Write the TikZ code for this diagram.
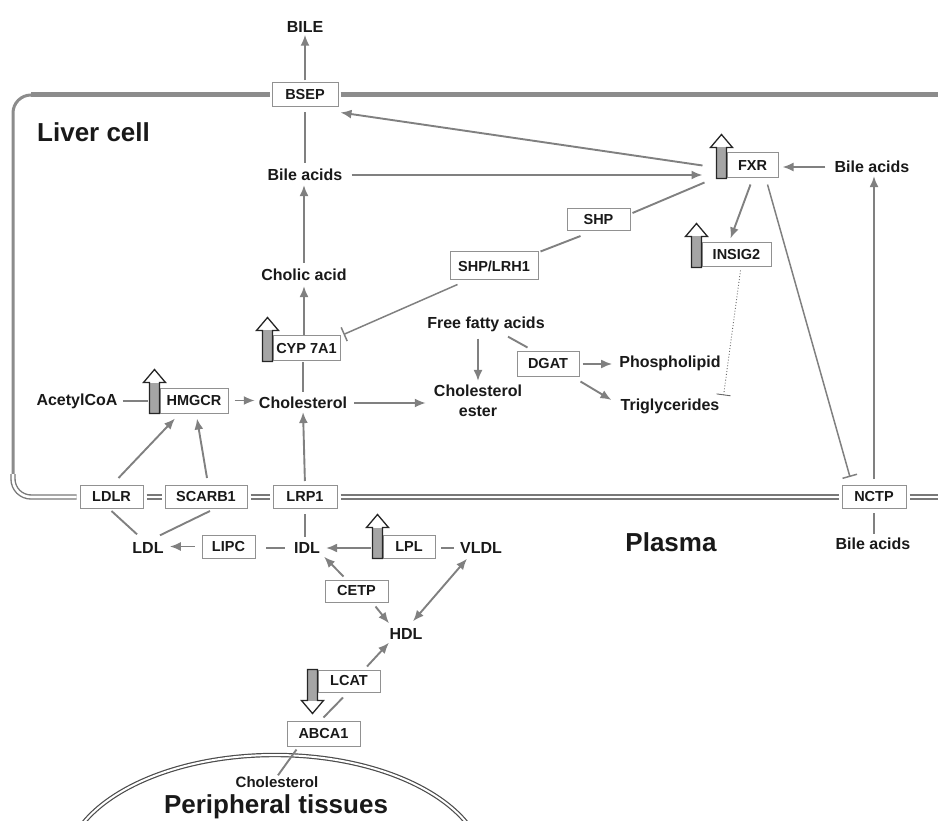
\documentclass[tikz,border=0pt]{standalone}
\usepackage{fontspec}
\setmainfont{Liberation Sans}
\usetikzlibrary{arrows.meta,calc}
\definecolor{arrowgray}{RGB}{128,128,128}
\definecolor{boxgray}{RGB}{145,145,145}
\definecolor{textdark}{RGB}{25,25,25}
\definecolor{memgray}{RGB}{120,120,120}
\definecolor{memfill}{RGB}{165,165,165}
\definecolor{memsolid}{RGB}{140,140,140}
\begin{document}
\begin{tikzpicture}[x=1pt,y=-1pt,
  lbl/.style={font=\bfseries\fontsize{16}{20}\selectfont, text=textdark, inner sep=1pt},
  box/.style={draw=boxgray, line width=1pt, fill=white, font=\bfseries\fontsize{14.5}{17}\selectfont, text=textdark, inner sep=1pt, minimum height=23pt},
  bigtext/.style={font=\bfseries\fontsize{26}{30}\selectfont, text=textdark, inner sep=0pt},
  arrw/.style={draw=arrowgray, line width=1.9pt, -{Latex[length=11pt,width=9pt]}},
  conn/.style={draw=arrowgray, line width=1.9pt},
  inhib/.style={draw=arrowgray, line width=1.5pt, -{Bar[width=15pt]}},
  dotinh/.style={draw=black!60, line width=0.9pt, dotted, -{Bar[width=14pt]}},
  topmem/.style={draw=memsolid, line width=5pt},
  sidemem/.style={draw=memsolid, line width=3pt},
  botmem/.style={draw=memgray, double=white, double distance=2.6pt, line width=1.4pt},
  hup/.pic={
    \path[fill=white] (-5,0) -- (-5,-31) -- (-11,-31) -- (0,-44) -- (11,-31) -- (5,-31) -- (5,0) -- cycle;
    \fill[memfill] (-4.4,-0.6) rectangle (4.4,-31);
    \draw[black!85, line width=1.3pt, line join=miter] (-5,0) -- (-5,-31) -- (-11,-31) -- (0,-44) -- (11,-31) -- (5,-31) -- (5,0) -- cycle;
  },
  hdown/.pic={
    \path[fill=white] (-5,0) -- (-5,31) -- (-11,31) -- (0,44) -- (11,31) -- (5,31) -- (5,0) -- cycle;
    \fill[memfill] (-4.4,0.6) rectangle (4.4,31);
    \draw[black!85, line width=1.3pt, line join=miter] (-5,0) -- (-5,31) -- (-11,31) -- (0,44) -- (11,31) -- (5,31) -- (5,0) -- cycle;
  }
]
\useasboundingbox (0,0) rectangle (938,821);

% ---------- nodes ----------
\node[lbl] (BILE) at (305,27) {BILE};
\node[box, minimum width=66pt, minimum height=24pt] (BSEP) at (305,95) {BSEP};
\node[bigtext, anchor=west] (liver) at (37,132) {Liver cell};
\node[lbl] (bileL) at (305,175) {Bile acids};
\node[box, minimum width=51pt, minimum height=25pt] (FXR) at (752.5,165.5) {FXR};
\node[lbl] (bileR) at (872,167) {Bile acids};
\node[box, minimum width=63pt, minimum height=22pt] (SHP) at (598.5,219.5) {SHP};
\node[box, minimum width=69pt, minimum height=24pt] (INSIG2) at (736.5,255) {INSIG2};
\node[box, minimum width=88pt, minimum height=28pt] (SHPLRH1) at (494,266) {SHP/LRH1};
\node[lbl] (cholic) at (304,275) {Cholic acid};
\node[box, minimum width=67pt, minimum height=25pt] (CYP) at (306.5,348.5) {CYP 7A1};
\node[lbl] (ffa) at (486,324) {Free fatty acids};
\node[box, minimum width=68pt, minimum height=25pt] (HMGCR) at (194,400.5) {HMGCR};
\node[lbl] (acetyl) at (77,401) {AcetylCoA};
\node[lbl] (chol) at (303,403) {Cholesterol};
\node[lbl, align=center] (cholest) at (478,401) {Cholesterol\\ester};
\node[box, minimum width=62pt, minimum height=24pt] (DGAT) at (548,364) {DGAT};
\node[lbl] (phos) at (670,363) {Phospholipid};
\node[lbl] (trig) at (670,406) {Triglycerides};

\node[box, minimum width=63pt] (LDLR) at (111.5,497) {LDLR};
\node[box, minimum width=82pt] (SCARB1) at (206,497) {SCARB1};
\node[box, minimum width=64pt] (LRP1) at (305,497) {LRP1};
\node[box, minimum width=64pt] (NCTP) at (874,497) {NCTP};

\node[lbl] (LDL) at (148,548) {LDL};
\node[box, minimum width=53pt] (LIPC) at (228.5,546.5) {LIPC};
\node[lbl] (IDL) at (307,548) {IDL};
\node[box, minimum width=52pt] (LPL) at (409,546.5) {LPL};
\node[lbl] (VLDL) at (481,548) {VLDL};
\node[bigtext] (plasma) at (671,542) {Plasma};
\node[lbl] (bileB) at (873,544) {Bile acids};
\node[box, minimum width=63pt, minimum height=22pt] (CETP) at (356.5,591) {CETP};
\node[lbl] (HDL) at (406,634) {HDL};
\node[box, minimum width=62pt, minimum height=22pt] (LCAT) at (349,681) {LCAT};
\node[box, minimum width=73pt, minimum height=25pt] (ABCA1) at (323.5,733.5) {ABCA1};
\node[lbl, font=\bfseries\fontsize{15}{18}\selectfont] (cholP) at (277,782) {Cholesterol};
\node[bigtext] (periph) at (276,807) {Peripheral tissues};

% ---------- membranes ----------
\draw[sidemem, rounded corners=18pt] ([xshift=-2pt]BSEP.west) -- (13,95) -- (13,482);
\draw[topmem] ([xshift=-2pt]BSEP.west) -- (31,95);
\draw[topmem] ([xshift=2pt]BSEP.east) -- (938,95);
\draw[botmem, rounded corners=18pt] (13,474) -- (13,497) -- ([xshift=-3pt]LDLR.west);
\draw[botmem] ([xshift=3pt]LDLR.east) -- ([xshift=-3pt]SCARB1.west);
\draw[botmem] ([xshift=3pt]SCARB1.east) -- ([xshift=-3pt]LRP1.west);
\draw[botmem] ([xshift=3pt]LRP1.east) -- ([xshift=-3pt]NCTP.west);
\draw[botmem] ([xshift=3pt]NCTP.east) -- (938,497);

\begin{scope}
  \clip (0,0) rectangle (938,821);
  \draw[draw=black!70, double=white, double distance=2pt, line width=1.2pt] (275,870) ellipse [x radius=210, y radius=115];
\end{scope}

% ---------- connectors ----------
\draw[arrw, shorten <=2pt, shorten >=1pt] (BSEP.north) -- (BILE.south);
\draw[conn, shorten <=5pt, shorten >=5pt] (bileL.north) -- (BSEP.south);
\draw[arrw, shorten <=8pt] (bileL.east) -- ($(bileL.east -| FXR.west)+(-24,0)$);
\draw[arrw] ($(FXR.west)+(-24,0)$) -- ($(BSEP.south east)+(2,5)$);
\draw[arrw, shorten <=8pt, shorten >=4pt] (bileR.west) -- (bileR.west -| FXR.east);
\draw[arrw, shorten <=6pt, shorten >=2pt] (NCTP.north) -- (NCTP.north |- bileR.south);
\draw[inhib] ($(FXR.south)+(15,6)$) -- ($(NCTP.north)+(-24,-8)$);
\draw[arrw] ($(FXR.south)+(-2,6)$) -- ($(INSIG2.north)+(-6,-4)$);
\draw[conn] ($(FXR.west)+(-22,17)$) -- ($(SHP.north east)+(2,5)$);
\draw[conn] ($(SHP.south)+(-18,5)$) -- ($(SHPLRH1.north east)+(2,0)$);
\draw[inhib] ($(SHPLRH1.south west)+(8,4)$) -- ($(CYP.north east)+(3,-1)$);
\draw[arrw, shorten <=5pt, shorten >=3pt] (cholic.north) -- (cholic.north |- bileL.south);
\draw[arrw, shorten >=4pt] (cholic.south |- CYP.north) -- (cholic.south);
\draw[conn, shorten <=4pt, shorten >=1pt] (chol.north) -- (chol.north |- CYP.south);
\draw[conn, shorten <=4pt] (acetyl.east) -- ($(acetyl.east -| HMGCR.west)+(-12,0)$);
\draw[arrw, shorten <=6pt, shorten >=3pt] (HMGCR.east) -- (HMGCR.east -| chol.west);
\draw[arrw, shorten <=6pt, shorten >=7pt] (chol.east) -- (chol.east -| cholest.west);
\draw[arrw, shorten <=4pt, shorten >=2pt] (LRP1.north) -- (chol.south);
\draw[arrw, shorten <=6pt, shorten >=3pt] (cholest.north |- ffa.south) -- (cholest.north);
\draw[conn] ($(ffa.south)+(22,4)$) -- ($(DGAT.north west)+(11,-4)$);
\draw[arrw, shorten <=3pt, shorten >=6pt] (DGAT.east) -- (DGAT.east -| phos.west);
\draw[arrw] ($(DGAT.south east)+(1,5)$) -- ($(trig.west)+(-8,-6)$);
\draw[dotinh] ($(INSIG2.south)+(4,3)$) -- ($(trig.north east)+(3,-2)$);

\draw[arrw] ($(LDLR.north)+(7,-7)$) -- ($(HMGCR.south)+(-19,5)$);
\draw[arrw] ($(SCARB1.north)+(1,-7)$) -- ($(HMGCR.south)+(3,5)$);
\draw[conn] ($(LDLR.south)+(0,2)$) -- ($(LDL.north)+(-11,-7)$);
\draw[conn] ($(SCARB1.south)+(4,2)$) -- ($(LDL.north)+(12,-6)$);
\draw[arrw, shorten <=7pt, shorten >=5pt] (LIPC.west) -- (LIPC.west -| LDL.east);
\draw[conn, shorten <=8pt, shorten >=10pt] (IDL.west) -- (IDL.west -| LIPC.east);
\draw[conn, shorten <=5pt, shorten >=4pt] (LRP1.south) -- (LRP1.south |- IDL.north);
\draw[arrw, shorten >=5pt] ($(IDL.east -| LPL.west)+(-12,0)$) -- (IDL.east);
\draw[conn, shorten <=5pt, shorten >=5pt] (VLDL.west) -- (VLDL.west -| LPL.east);
\draw[arrw] ($(CETP.north)+(-13,-3)$) -- ($(IDL.south east)+(3,2)$);
\draw[arrw] ($(CETP.south)+(19,4)$) -- ($(HDL.north)+(-17,-4)$);
\draw[arrw, {Latex[length=11pt,width=9pt]}-{Latex[length=11pt,width=9pt]}] ($(VLDL.south)+(-14,4)$) -- ($(HDL.north)+(7,-6)$);
\draw[arrw] ($(LCAT.north)+(18,-3)$) -- ($(HDL.south)+(-17,2)$);
\draw[conn] ($(ABCA1.north)+(0,-3)$) -- ($(LCAT.south)+(-6,5)$);
\draw[conn] ($(cholP.north)+(1,0)$) -- ($(ABCA1.south west)+(10,3)$);
\draw[conn, shorten <=4pt, shorten >=3pt] (NCTP.south) -- (NCTP.south |- bileB.north);

% ---------- induction / repression arrows ----------
\pic at ($(FXR.south west)+(-5,0)$) {hup};
\pic at ($(INSIG2.south west)+(-5,0)$) {hup};
\pic at ($(CYP.south west)+(-5,0)$) {hup};
\pic at ($(HMGCR.south west)+(-5,0)$) {hup};
\pic at ($(LPL.south west)+(-5,0)$) {hup};
\pic at ($(LCAT.north west)+(-5,0)$) {hdown};
\end{tikzpicture}
\end{document}
